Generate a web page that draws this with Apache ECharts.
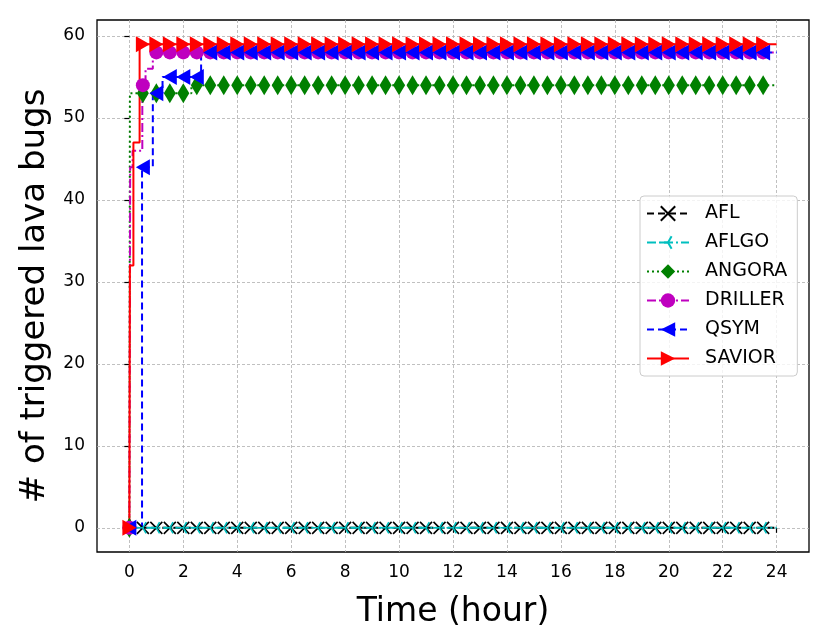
<!DOCTYPE html>
<html>
<head>
<meta charset="utf-8">
<script src="https://cdn.jsdelivr.net/npm/echarts@6/dist/echarts.min.js"></script>
<style>
  html, body { margin: 0; padding: 0; background: #fff; }
  #chart { width: 831px; height: 643px; }
</style>
</head>
<body>
<div id="chart"></div>
<script>
// marker sample times (hours)
var markHours = [0,0.5,1,1.5,2,2.5,3,3.5,4,4.5,5,5.5,6,6.5,7,7.5,8,8.5,9,9.5,10,10.5,11,11.5,
                 12,12.5,13,13.5,14,14.5,15,15.5,16,16.5,17,17.5,18,18.5,19,19.5,20,20.5,21,21.5,22,22.5,23,23.5];
var xTicks = [0,2,4,6,8,10,12,14,16,18,20,22,24];
var yTicks = [0,10,20,30,40,50,60];

// step change points [hour, bugs]
var aflSteps     = [[0,0],[24,0]];
var aflgoSteps   = [[0,0],[24,0]];
var angoraSteps  = [[0,0],[0.02,53],[2.3,54],[24,54]];
var drillerSteps = [[0,0],[0.03,44],[0.12,46],[0.48,54],[0.6,56],[0.87,58],[24,58]];
var qsymSteps    = [[0,0],[0.47,44],[0.87,53],[1.23,55],[2.66,58],[24,58]];
var saviorSteps  = [[0,0],[0.02,32],[0.15,47],[0.38,59],[24,59]];

var FONT = 'DejaVu Sans';

function valueAt(steps, t) {
    var v = steps[0][1];
    for (var i = 0; i < steps.length; i++) {
        if (steps[i][0] <= t) v = steps[i][1];
    }
    return v;
}

function buildData(steps) {
    var items = {};
    steps.forEach(function (p) {
        items[p[0]] = {value: [p[0], p[1]], symbol: 'none'};
    });
    markHours.forEach(function (t) {
        items[t] = {value: [t, valueAt(steps, t)]};
    });
    return Object.keys(items).map(Number).sort(function (a, b) { return a - b; })
        .map(function (k) { return items[k]; });
}

function makeSeries(name, steps, color, lineType, symbol, size, stroke) {
    return {
        name: name,
        type: 'line',
        step: 'end',
        data: buildData(steps),
        symbol: symbol,
        symbolSize: size,
        showAllSymbol: true,
        animation: false,
        lineStyle: {color: color, width: 2, type: lineType},
        itemStyle: stroke
            ? {color: color, borderColor: color, borderWidth: 1.6}
            : {color: color, borderWidth: 0, opacity: 1},
        emphasis: {disabled: true}
    };
}

var myChart = echarts.init(document.getElementById('chart'));

option = {
    backgroundColor: '#fff',
    animation: false,
    grid: {
        left: 97, right: 22, top: 20, bottom: 91,
        show: true, borderColor: '#000', borderWidth: 1.3,
        backgroundColor: 'transparent'
    },
    legend: {
        orient: 'vertical',
        left: 640, top: 196,
        padding: [8, 10, 8, 6],
        itemWidth: 42, itemHeight: 18, itemGap: 10,
        backgroundColor: 'rgba(255,255,255,0.8)',
        borderColor: '#cccccc', borderWidth: 1, borderRadius: 4,
        textStyle: {fontFamily: FONT, fontSize: 19, color: '#000', padding: [0, 0, 0, 11]},
        data: ['AFL', 'AFLGO', 'ANGORA', 'DRILLER', 'QSYM', 'SAVIOR']
    },
    xAxis: {
        type: 'value',
        min: -1.2, max: 25.2,
        name: 'Time (hour)',
        nameLocation: 'middle',
        nameGap: 44,
        nameTextStyle: {fontFamily: FONT, fontSize: 33, color: '#000'},
        axisLine: {show: false},
        axisTick: {show: true, length: 5, customValues: xTicks, lineStyle: {color: '#000', width: 1.2}},
        axisLabel: {customValues: xTicks, fontFamily: FONT, fontSize: 17, color: '#000', margin: 12},
        splitLine: {show: true, lineStyle: {color: '#b0b0b0', width: 0.8, type: [3, 2]}}
    },
    yAxis: {
        type: 'value',
        min: -2.95, max: 61.95,
        name: '# of triggered lava bugs',
        nameLocation: 'middle',
        nameGap: 40,
        nameTextStyle: {fontFamily: FONT, fontSize: 34, color: '#000', padding: [0, 20, 0, 0]},
        axisLine: {show: false},
        axisTick: {show: true, length: 5, customValues: yTicks, lineStyle: {color: '#000', width: 1.2}},
        axisLabel: {customValues: yTicks, fontFamily: FONT, fontSize: 17, color: '#000', margin: 12},
        splitLine: {show: true, lineStyle: {color: '#b0b0b0', width: 0.8, type: [3, 2]}}
    },
    series: [
        makeSeries('AFL', aflSteps, '#000000', [7, 4], 'path://M0,0L10,10M10,0L0,10', 12, true),
        makeSeries('AFLGO', aflgoSteps, '#00bfbf', [9, 3, 2, 3], 'path://M5,5L0,5M5,5L7.5,0.67M5,5L7.5,9.33M0,0M10,10', 13, true),
        makeSeries('ANGORA', angoraSteps, '#008000', [2, 3], 'diamond', [12, 20], false),
        makeSeries('DRILLER', drillerSteps, '#bf00bf', [9, 3, 2, 3], 'circle', 14, false),
        makeSeries('QSYM', qsymSteps, '#0000ff', [7, 4], 'path://M0,5L10,0L10,10Z', [14, 16], false),
        makeSeries('SAVIOR', saviorSteps, '#ff0000', 'solid', 'path://M10,5L0,0L0,10Z', [14, 16], false)
    ]
};

myChart.setOption(option);
window.addEventListener('resize', function () { myChart.resize(); });
</script>
</body>
</html>
